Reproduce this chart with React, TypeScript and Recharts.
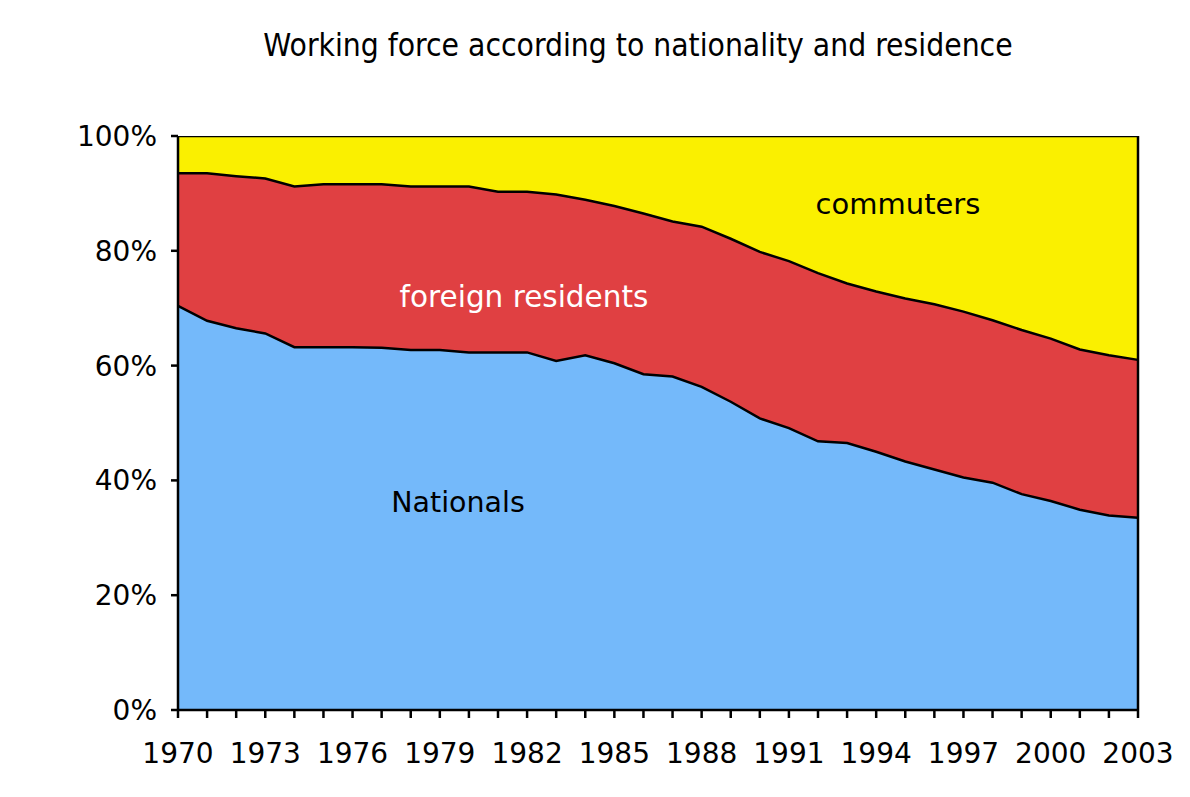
import React from 'react';
import { ComposedChart, Area, Line, XAxis, YAxis, ReferenceLine } from 'recharts';

const years = [1970,1971,1972,1973,1974,1975,1976,1977,1978,1979,1980,1981,1982,1983,1984,1985,1986,1987,1988,1989,1990,1991,1992,1993,1994,1995,1996,1997,1998,1999,2000,2001,2002,2003];
const nationals = [70.4,67.8,66.5,65.6,63.2,63.2,63.2,63.1,62.7,62.7,62.3,62.3,62.3,60.8,61.8,60.4,58.5,58.1,56.3,53.7,50.8,49.1,46.8,46.5,45.0,43.3,41.9,40.5,39.6,37.6,36.4,34.9,33.9,33.5];
const foreignResidents = [23.1,25.7,26.5,27.0,28.0,28.4,28.4,28.5,28.5,28.5,28.9,28.0,28.0,29.0,27.1,27.4,28.0,27.0,27.9,28.4,29.0,29.1,29.3,27.8,27.9,28.4,28.8,28.9,28.3,28.6,28.3,27.9,27.9,27.5];
const commuters = [6.5,6.5,7.0,7.4,8.8,8.4,8.4,8.4,8.8,8.8,8.8,9.7,9.7,10.2,11.1,12.2,13.5,14.9,15.8,17.9,20.2,21.8,23.9,25.7,27.1,28.3,29.3,30.6,32.1,33.8,35.3,37.2,38.2,39.0];
const yTicks = [0, 20, 40, 60, 80, 100];
const labeledYears = [1970,1973,1976,1979,1982,1985,1988,1991,1994,1997,2000,2003];

// Table built from the arrays above; the cumulative keys are only used for the black boundary lines.
const data = years.map((y, i) => ({
  year: y,
  nationals: nationals[i],
  foreign: foreignResidents[i],
  commuters: commuters[i],
  topNationals: nationals[i],
  topForeign: nationals[i] + foreignResidents[i],
  topAll: nationals[i] + foreignResidents[i] + commuters[i],
}));

const FONT = '"DejaVu Sans", "Noto Sans", sans-serif';

export default function App() {
  return (
    <div style={{ position: 'absolute', left: 0, top: 0, width: 1190, height: 797, background: '#fff', fontFamily: FONT }}>
      <ComposedChart width={1190} height={797} data={data} margin={{ top: 136, right: 52, bottom: 0, left: 0 }}>
        <XAxis
          dataKey="year"
          type="number"
          domain={[1970, 2003]}
          ticks={years}
          interval={0}
          tickFormatter={(v) => (labeledYears.includes(v) ? String(v) : '')}
          height={87}
          tickSize={8}
          tickMargin={25}
          axisLine={{ stroke: '#000', strokeWidth: 2.5 }}
          tickLine={{ stroke: '#000', strokeWidth: 2.5 }}
          tick={{ fill: '#000', fontSize: 28, fontFamily: FONT }}
        />
        <YAxis
          type="number"
          domain={[0, 100]}
          allowDataOverflow
          ticks={yTicks}
          interval={0}
          tickFormatter={(v) => `${v}%`}
          width={178}
          tickSize={7}
          tickMargin={14}
          axisLine={{ stroke: '#000', strokeWidth: 2.5 }}
          tickLine={{ stroke: '#000', strokeWidth: 2.5 }}
          tick={{ fill: '#000', fontSize: 28, fontFamily: FONT }}
        />
        <Area type="linear" dataKey="nationals" stackId="a" fill="#74B9FA" fillOpacity={1} stroke="none" isAnimationActive={false} />
        <Area type="linear" dataKey="foreign" stackId="a" fill="#E04042" fillOpacity={1} stroke="none" isAnimationActive={false} />
        <Area type="linear" dataKey="commuters" stackId="a" fill="#FAF000" fillOpacity={1} stroke="none" isAnimationActive={false} />
        <Line type="linear" dataKey="topNationals" stroke="#000" strokeWidth={2.5} dot={false} isAnimationActive={false} />
        <Line type="linear" dataKey="topForeign" stroke="#000" strokeWidth={2.5} dot={false} isAnimationActive={false} />
        <Line type="linear" dataKey="topAll" stroke="#000" strokeWidth={2.5} dot={false} isAnimationActive={false} />
        <ReferenceLine x={2003} stroke="#000" strokeWidth={2.5} />
      </ComposedChart>
      <div style={{ position: 'absolute', left: 638, top: 45, transform: 'translate(-50%, -50%)', whiteSpace: 'nowrap', fontSize: 31.5, fontFamily: '"Liberation Sans Narrow", "DejaVu Sans Condensed", sans-serif', color: '#000' }}>
        Working force according to nationality and residence
      </div>
      <div style={{ position: 'absolute', left: 458, top: 502, transform: 'translate(-50%, -50%)', fontSize: 28.5, color: '#000', whiteSpace: 'nowrap' }}>Nationals</div>
      <div style={{ position: 'absolute', left: 524, top: 297, transform: 'translate(-50%, -50%)', fontSize: 29.5, color: '#fff', whiteSpace: 'nowrap' }}>foreign residents</div>
      <div style={{ position: 'absolute', left: 898, top: 204, transform: 'translate(-50%, -50%)', fontSize: 29, color: '#000', whiteSpace: 'nowrap' }}>commuters</div>
    </div>
  );
}
